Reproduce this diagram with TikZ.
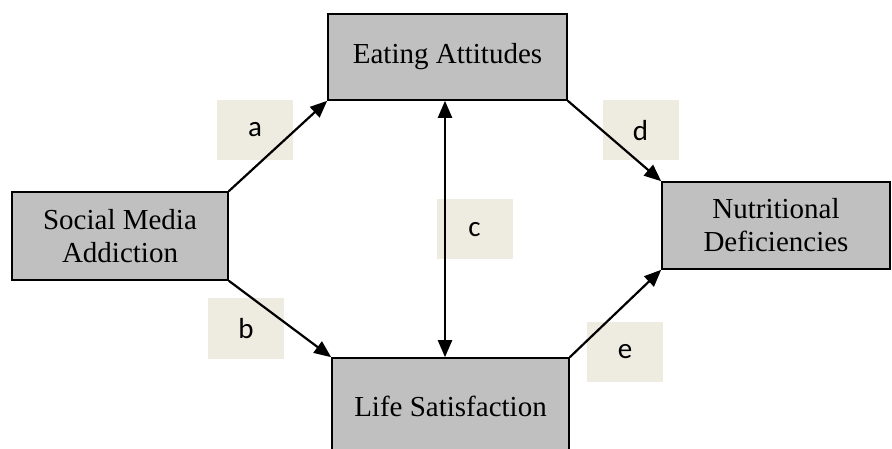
\documentclass[tikz,border=0pt]{standalone}
\usepackage{fontspec}
\setmainfont{Liberation Serif}
\newfontfamily\labfont{Carlito}
\usetikzlibrary{arrows.meta}
\definecolor{boxgray}{HTML}{C0C0C0}
\definecolor{labbg}{HTML}{EEECE1}
\tikzset{
  varbox/.style={draw=black, line width=1.6pt, fill=boxgray, align=center, inner sep=0pt,
    font=\fontsize{29}{33}\selectfont},
  labbox/.style={fill=labbg, inner sep=0pt, minimum width=76pt, minimum height=60pt,
    font=\labfont\fontsize{29}{33}\selectfont},
  conn/.style={line width=2.2pt, -{Triangle[length=17pt,width=14pt]}},
  biconn/.style={line width=2.2pt, {Triangle[length=17pt,width=14pt]}-{Triangle[length=17pt,width=14pt]}}
}
\begin{document}
\begin{tikzpicture}[x=1pt,y=-1pt]
\useasboundingbox (0,0) rectangle (892,449);
\clip (0,0) rectangle (892,449);
% label boxes (behind connectors)
\node[labbox] (la) at (255,130) {a};
\node[labbox] (lb) at (246,328.5) {b};
\node[labbox] (lc) at (474.5,229.5) {c};
\node[labbox] (ld) at (640.5,130.5) {d};
\node[labbox] (le) at (625,351.5) {e};
% variable boxes
\node[varbox, minimum width=216pt, minimum height=88pt] (sma) at (120,236) {Social Media\\Addiction};
\node[varbox, minimum width=239pt, minimum height=86pt] (ea) at (447.5,57) {Eating Attitudes};
\node[varbox, minimum width=237pt, minimum height=96pt] (ls) at (450.5,406) {Life Satisfaction};
\node[varbox, minimum width=228pt, minimum height=87pt] (nd) at (776,225.5) {Nutritional\\Deficiencies};
% connectors
\draw[conn] (sma.north east) -- (ea.south west);
\draw[conn] (sma.south east) -- (ls.north west);
\draw[conn] (ea.south east) -- (nd.north west);
\draw[conn] (ls.north east) -- (nd.south west);
\draw[biconn] ([xshift=-2.5pt]ea.south) -- ([xshift=-2.5pt]ea.south |- ls.north);
\end{tikzpicture}
\end{document}
